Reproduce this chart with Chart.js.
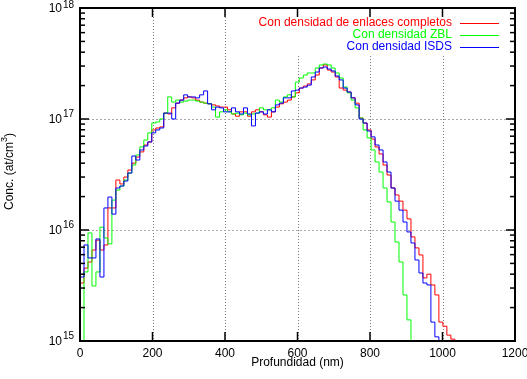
<!DOCTYPE html>
<html>
<head>
<meta charset="utf-8">
<script src="https://cdn.jsdelivr.net/npm/chart.js@4.4.1/dist/chart.umd.min.js"></script>
<style>
  html, body { margin: 0; padding: 0; background: #fff; }
  canvas { display: block; }
</style>
</head>
<body>
<canvas id="perfil" width="527" height="379"></canvas>
<script>
// bin width in nm, bin i starts at i * BIN_NM
const BIN_NM = 11;

// Con densidad de enlaces completos (red)
const enlaces = [
  1.09e16, 3.33e15, 4.54e15, 5.15e15, 6.6e15, 8.1e15, 6.6e15, 7.33e15, 1.58e16, 1.58e16,
  2.82e16, 2.6e16, 3.0e16, 3.47e16, 4.0e16, 4.54e16, 5.05e16, 5.83e16, 6.21e16, 7.97e16,
  8.3e16, 8.48e16, 1.13e17, 1.11e17, 1.26e17, 1.39e17, 1.48e17, 1.55e17, 1.58e17, 1.55e17,
  1.48e17, 1.42e17, 1.39e17, 1.37e17, 1.34e17, 1.31e17, 1.28e17, 1.28e17, 1.21e17, 1.11e17,
  1.06e17, 1.16e17, 1.16e17, 1.06e17, 1.16e17, 1.21e17, 1.16e17, 1.09e17, 1.04e17, 1.16e17,
  1.28e17, 1.37e17, 1.42e17, 1.48e17, 1.58e17, 1.72e17, 1.90e17, 1.98e17, 2.07e17, 2.25e17,
  2.49e17, 2.88e17, 3.07e17, 2.76e17, 2.65e17, 2.39e17, 1.90e17, 1.82e17, 1.75e17, 1.55e17,
  1.39e17, 1.02e17, 9.2e16, 7.97e16, 6.6e16, 5.6e16, 4.84e16, 3.85e16, 3.13e16, 2.39e16,
  2.07e16, 1.82e16, 1.51e16, 1.26e16, 8.66e15, 6.9e15, 5.96e15, 3.7e15, 4.0e15, 3.2e15,
  2.6e15, 1.48e15, 1.36e15, 1.13e15, 1.04e15
];

// Con densidad ZBL (green)
const zbl = [
  1.39e16, 8e14, 4.19e15, 9.4e15, 3.13e15, 4.19e15, 1.06e16, 8.48e15, 7.5e15, 1.86e16,
  2.29e16, 2.49e16, 2.82e16, 3.26e16, 3.85e16, 4.74e16, 5.6e16, 6.47e16, 7.5e16, 9.2e16,
  9.4e16, 1.0e17, 1.13e17, 1.58e17, 1.42e17, 1.48e17, 1.42e17, 1.45e17, 1.48e17, 1.48e17,
  1.45e17, 1.42e17, 1.39e17, 1.37e17, 1.28e17, 1.04e17, 1.16e17, 1.21e17, 1.16e17, 1.11e17,
  1.13e17, 1.09e17, 1.13e17, 1.09e17, 1.11e17, 1.13e17, 1.26e17, 1.21e17, 1.21e17, 1.26e17,
  1.48e17, 1.42e17, 1.58e17, 1.65e17, 1.58e17, 2.15e17, 2.34e17, 2.49e17, 2.6e17, 2.6e17,
  2.88e17, 3.07e17, 3.13e17, 3.07e17, 2.88e17, 2.6e17, 2.34e17, 1.94e17, 1.72e17, 1.48e17,
  1.26e17, 1.02e17, 7.97e16, 6.75e16, 5.26e16, 4.1e16, 3.33e16, 2.39e16, 1.79e16, 1.18e16,
  7.8e15, 5.15e15, 2.6e15, 1.55e15
];

// Con densidad ISDS (blue)
const isds = [
  1.58e16, 3.77e15, 7.33e15, 5.6e15, 5.6e15, 8.3e15, 3.77e15, 1.58e16, 1.98e16, 1.39e16,
  2.39e16, 2.49e16, 2.76e16, 3.26e16, 4.64e16, 4.27e16, 5.26e16, 5.71e16, 6.21e16, 7.5e16,
  7.97e16, 8.3e16, 1.13e17, 1.13e17, 1.0e17, 1.39e17, 1.48e17, 1.65e17, 1.58e17, 1.58e17,
  1.55e17, 1.65e17, 1.79e17, 1.37e17, 1.21e17, 1.28e17, 1.26e17, 1.16e17, 1.16e17, 1.26e17,
  1.16e17, 1.11e17, 1.26e17, 1.11e17, 8.66e16, 1.13e17, 1.16e17, 1.11e17, 1.21e17, 1.16e17,
  1.34e17, 1.39e17, 1.55e17, 1.55e17, 1.79e17, 1.82e17, 1.90e17, 1.94e17, 2.02e17, 2.39e17,
  2.65e17, 2.88e17, 2.94e17, 2.82e17, 2.71e17, 2.44e17, 2.25e17, 1.90e17, 1.75e17, 1.55e17,
  1.34e17, 1.0e17, 9.2e16, 7.8e16, 6.9e16, 5.83e16, 5.26e16, 4.1e16, 3.33e16, 2.39e16,
  1.82e16, 1.51e16, 1.18e16, 9.6e15, 7.64e15, 5.37e15, 4.1e15, 3.33e15, 3.2e15, 1.48e15,
  1.09e15
];

const xTicks = [0, 200, 400, 600, 800, 1000, 1200];
const yTicks = [1e15, 1e16, 1e17, 1e18];
const yTickExp = ['15', '16', '17', '18'];
const legendLabels = ['Con densidad de enlaces completos', 'Con densidad ZBL', 'Con densidad ISDS'];
const colors = ['#ff0000', '#00ff00', '#0000ff'];

const FONT = "'Liberation Sans', Arial, Helvetica, sans-serif";
const FLOOR = 1e14; // profile ends: drop below the axis

function steps(values) {
  const pts = values.map((v, i) => ({ x: i * BIN_NM, y: v }));
  pts.push({ x: values.length * BIN_NM, y: FLOOR });
  return pts;
}

function seg(ctx, x0, y0, x1, y1) {
  ctx.beginPath();
  ctx.moveTo(x0, y0);
  ctx.lineTo(x1, y1);
  ctx.stroke();
}

// gnuplot look: dotted grid, opaque key, inward ticks, 10^n labels
const gnuplotFrame = {
  id: 'gnuplotFrame',
  beforeDatasetsDraw(chart) {
    const { ctx, chartArea: a, scales: { x, y } } = chart;
    ctx.save();
    ctx.lineWidth = 1;
    ctx.strokeStyle = '#777';
    ctx.setLineDash([1, 2]);
    xTicks.slice(1, -1).forEach(v => {
      const px = Math.round(x.getPixelForValue(v)) + 0.5;
      seg(ctx, px, a.top, px, a.bottom);
    });
    ctx.strokeStyle = '#aaa';
    ctx.setLineDash([2, 2]);
    yTicks.slice(1, -1).forEach(v => {
      const py = Math.round(y.getPixelForValue(v)) + 0.5;
      seg(ctx, a.left, py, a.right, py);
    });
    ctx.setLineDash([]);
    // key box hides the grid behind it
    ctx.fillStyle = '#fff';
    ctx.fillRect(a.left + 170, a.top + 1, a.right - a.left - 172, 46);
    ctx.restore();
  },
  afterDatasetsDraw(chart) {
    const { ctx, chartArea: a, scales: { x, y } } = chart;
    ctx.save();
    ctx.strokeStyle = '#000';
    ctx.lineWidth = 2;
    ctx.strokeRect(a.left, a.top, a.right - a.left, a.bottom - a.top);

    ctx.lineWidth = 1.5;
    xTicks.forEach(v => {
      const px = x.getPixelForValue(v);
      seg(ctx, px, a.bottom, px, a.bottom - 9);
      seg(ctx, px, a.top, px, a.top + 9);
    });
    yTicks.forEach((v, i) => {
      const py = y.getPixelForValue(v);
      seg(ctx, a.left, py, a.left + 9, py);
      seg(ctx, a.right, py, a.right - 9, py);
      if (i < yTicks.length - 1) {
        for (let m = 2; m <= 9; m++) {
          const pm = y.getPixelForValue(m * v);
          seg(ctx, a.left, pm, a.left + 5, pm);
          seg(ctx, a.right, pm, a.right - 5, pm);
        }
      }
    });

    // tick labels
    ctx.fillStyle = '#000';
    ctx.textBaseline = 'middle';
    ctx.font = `12px ${FONT}`;
    ctx.textAlign = 'center';
    xTicks.forEach(v => ctx.fillText(String(v), x.getPixelForValue(v), a.bottom + 13));
    yTicks.forEach((v, i) => {
      const py = y.getPixelForValue(v);
      ctx.font = `12px ${FONT}`;
      ctx.textAlign = 'right';
      ctx.fillText('10', a.left - 18, py + 1);
      ctx.font = `10px ${FONT}`;
      ctx.textAlign = 'left';
      ctx.fillText(yTickExp[i], a.left - 17, Math.max(py - 5, 5));
    });

    // axis titles
    ctx.font = `12px ${FONT}`;
    ctx.textAlign = 'center';
    ctx.fillText('Profundidad (nm)', (a.left + a.right) / 2, a.bottom + 22);

    ctx.save();
    ctx.translate(10, (a.top + a.bottom) / 2 - 3);
    ctx.rotate(-Math.PI / 2);
    ctx.textAlign = 'left';
    const p1 = 'Conc. (at/cm', p2 = '3', p3 = ')';
    ctx.font = `12px ${FONT}`;
    const w1 = ctx.measureText(p1).width, w3 = ctx.measureText(p3).width;
    ctx.font = `9px ${FONT}`;
    const w2 = ctx.measureText(p2).width;
    const x0 = -(w1 + w2 + w3) / 2;
    ctx.font = `12px ${FONT}`;
    ctx.fillText(p1, x0, 0);
    ctx.fillText(p3, x0 + w1 + w2, 0);
    ctx.font = `9px ${FONT}`;
    ctx.fillText(p2, x0 + w1, -5);
    ctx.restore();

    // key
    ctx.font = `12px ${FONT}`;
    ctx.textAlign = 'right';
    ctx.lineWidth = 1;
    legendLabels.forEach((label, i) => {
      const ky = a.top + 15 + 12 * i;
      ctx.fillStyle = colors[i];
      ctx.fillText(label, a.right - 63, ky);
      ctx.strokeStyle = colors[i];
      seg(ctx, a.right - 55, ky + 0.5, a.right - 16, ky + 0.5);
    });
    ctx.restore();
  }
};

new Chart(document.getElementById('perfil'), {
  type: 'line',
  data: {
    datasets: [
      { label: legendLabels[0], data: steps(enlaces), borderColor: colors[0], order: 3 },
      { label: legendLabels[1], data: steps(zbl), borderColor: colors[1], order: 2 },
      { label: legendLabels[2], data: steps(isds), borderColor: colors[2], order: 1 }
    ].map(d => Object.assign(d, { stepped: 'after', borderWidth: 1, pointRadius: 0, fill: false, tension: 0 }))
  },
  options: {
    responsive: false,
    animation: false,
    devicePixelRatio: 1,
    layout: { padding: { left: 80, top: 8, right: 12, bottom: 38 } },
    scales: {
      x: { type: 'linear', min: 0, max: 1200, display: false },
      y: { type: 'logarithmic', min: 1e15, max: 1e18, display: false }
    },
    plugins: { legend: { display: false }, tooltip: { enabled: false } }
  },
  plugins: [gnuplotFrame]
});
</script>
</body>
</html>
